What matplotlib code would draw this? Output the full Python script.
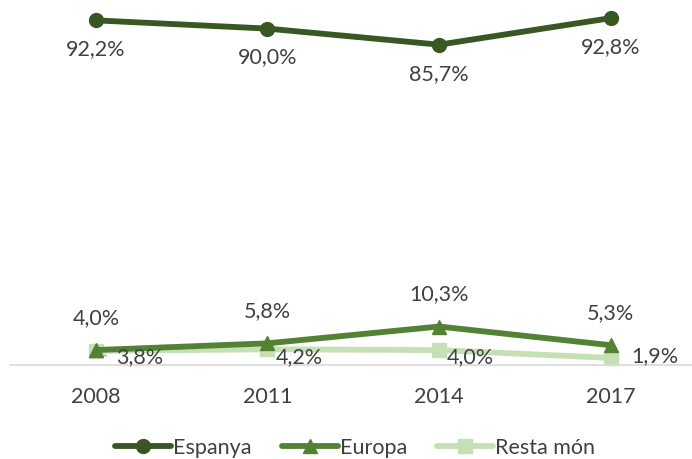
import matplotlib.pyplot as plt

plt.rcParams['font.family'] = ['Lato', 'DejaVu Sans']

years = ['2008', '2011', '2014', '2017']
espanya = [92.2, 90.0, 85.7, 92.8]
europa = [4.0, 5.8, 10.3, 5.3]
resta_mon = [3.8, 4.2, 4.0, 1.9]

c_esp = '#385723'
c_eur = '#548235'
c_res = '#C5E0B4'
txt = '#404040'
fs = 15.5

fig = plt.figure(figsize=(6.92, 4.6), dpi=100)
ax = fig.add_axes([0.0145, 0.2043, 0.992, 0.772])
x = list(range(len(years)))

ax.plot(x, resta_mon, color=c_res, lw=4.2, marker='s', ms=10, label='Resta món',
        clip_on=False, zorder=2, solid_capstyle='round')
ax.plot(x, europa, color=c_eur, lw=4.2, marker='^', ms=10, label='Europa',
        clip_on=False, zorder=3, solid_capstyle='round')
ax.plot(x, espanya, color=c_esp, lw=4.2, marker='o', ms=10, label='Espanya',
        clip_on=False, zorder=4, solid_capstyle='round')

fmt = lambda v: f'{v:.1f}%'.replace('.', ',')
for i, v in enumerate(espanya):
    ax.annotate(fmt(v), (i, v), xytext=(0, -28), textcoords='offset pixels',
                ha='center', va='center', fontsize=fs, color=txt)
for i, v in enumerate(europa):
    ax.annotate(fmt(v), (i, v), xytext=(0, 33), textcoords='offset pixels',
                ha='center', va='center', fontsize=fs, color=txt)
res_off = [(20, -5), (8, -7), (8, -6), (21, 3)]
for i, v in enumerate(resta_mon):
    ax.annotate(fmt(v), (i, v), xytext=res_off[i], textcoords='offset pixels',
                ha='left', va='center', fontsize=fs, color=txt)
ax.plot([0.0, 0.06], [3.8, 2.4], color='#A6A6A6', lw=1, zorder=1, clip_on=False)

ax.set_xlim(-0.5, 3.5)
ax.set_ylim(0, 95)
ax.set_xticks(x)
ax.set_xticklabels(years, fontsize=fs, color=txt)
ax.tick_params(axis='x', length=0, pad=15)
ax.set_yticks([])
for s in ['top', 'right', 'left']:
    ax.spines[s].set_visible(False)
ax.spines['bottom'].set_color('#D9D9D9')
ax.spines['bottom'].set_linewidth(1.2)

h, l = ax.get_legend_handles_labels()
fig.legend(h[::-1], l[::-1], loc='center', bbox_to_anchor=(0.513, 0.026), ncol=3,
           frameon=False, fontsize=fs, handlelength=2.6, columnspacing=1.4,
           handletextpad=0.1, labelcolor=txt)

fig.savefig('out.png', dpi=100)
